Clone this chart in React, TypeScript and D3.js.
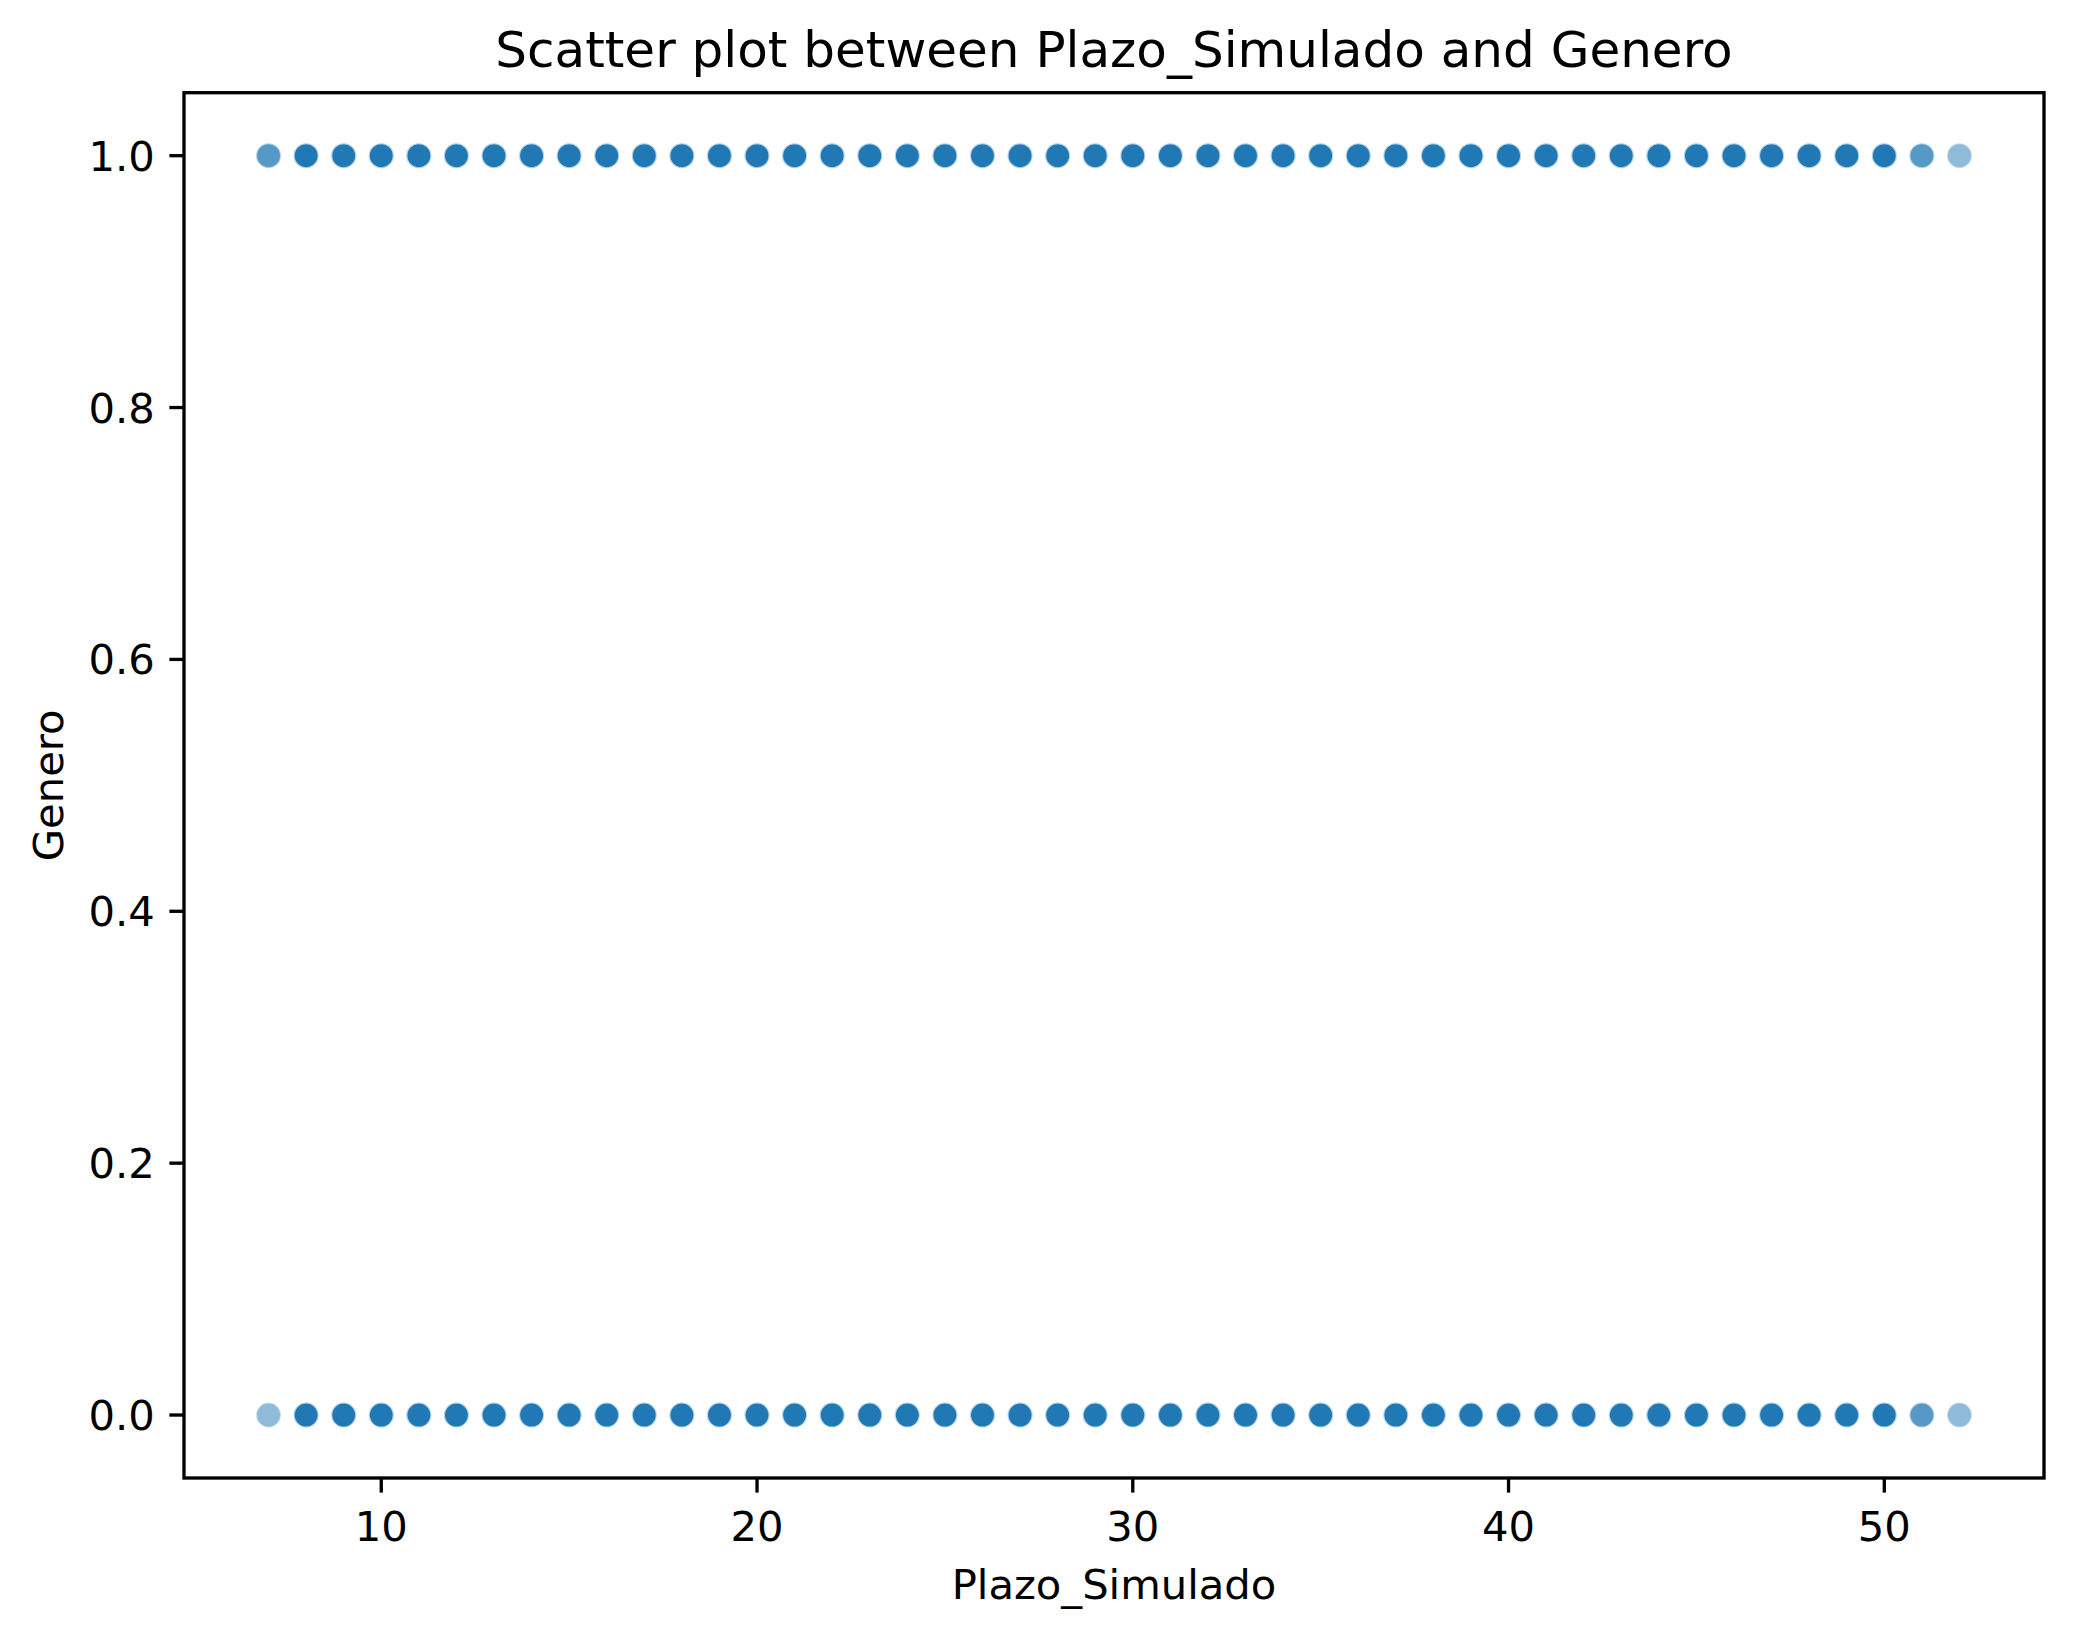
import React from 'react';
import * as d3 from 'd3';

// Plazo_Simulado values seen on the x axis
const plazo = [
  7, 8, 9, 10, 11, 12, 13, 14, 15, 16, 17, 18, 19, 20, 21, 22, 23, 24, 25, 26, 27, 28, 29,
  30, 31, 32, 33, 34, 35, 36, 37, 38, 39, 40, 41, 42, 43, 44, 45, 46, 47, 48, 49, 50, 51, 52,
];

// estimated number of overlapping records at Genero = 1 and Genero = 0
const countGenero1 = [
  2, 8, 8, 8, 8, 8, 8, 8, 8, 8, 8, 8, 8, 8, 8, 8, 8, 8, 8, 8, 8, 8, 8,
  8, 8, 8, 8, 8, 8, 8, 8, 8, 8, 8, 8, 8, 8, 8, 8, 8, 8, 8, 8, 8, 2, 1,
];
const countGenero0 = [
  1, 8, 8, 8, 8, 8, 8, 8, 8, 8, 8, 8, 8, 8, 8, 8, 8, 8, 8, 8, 8, 8, 8,
  8, 8, 8, 8, 8, 8, 8, 8, 8, 8, 8, 8, 8, 8, 8, 8, 8, 8, 8, 8, 8, 2, 1,
];

const xTicks = [10, 20, 30, 40, 50];
const yTicks = [0, 0.2, 0.4, 0.6, 0.8, 1.0];

const WIDTH = 2074;
const HEIGHT = 1639;
const FONT = 'DejaVu Sans, sans-serif';

export default function App() {
  const margin = { left: 184, right: 30, top: 92.7, bottom: 161 };
  const x = d3
    .scaleLinear()
    .domain([4.75, 54.25])
    .range([margin.left, WIDTH - margin.right]);
  const y = d3
    .scaleLinear()
    .domain([-0.05, 1.05])
    .range([HEIGHT - margin.bottom, margin.top]);

  const [x0, x1] = x.range();
  const [yb, yt] = y.range();

  // expand counts into individual points (each drawn with alpha 0.5)
  const points: { px: number; g: number }[] = [];
  plazo.forEach((p, i) => {
    for (let k = 0; k < countGenero1[i]; k++) points.push({ px: p, g: 1 });
    for (let k = 0; k < countGenero0[i]; k++) points.push({ px: p, g: 0 });
  });

  const tickLen = 14.6;
  const pad = 14.6;

  return (
    <svg
      width={WIDTH}
      height={HEIGHT}
      style={{ position: 'absolute', left: 0, top: 0, background: '#fff' }}
      fontFamily={FONT}
    >
      <rect x={0} y={0} width={WIDTH} height={HEIGHT} fill="#fff" />

      {/* points */}
      <g>
        {points.map((d, i) => (
          <circle
            key={i}
            cx={x(d.px)}
            cy={y(d.g)}
            r={12.5}
            fill="#1f77b4"
            fillOpacity={0.5}
            stroke="#fff"
            strokeOpacity={0.5}
            strokeWidth={2}
          />
        ))}
      </g>

      {/* frame */}
      <rect
        x={x0}
        y={yt}
        width={x1 - x0}
        height={yb - yt}
        fill="none"
        stroke="#000"
        strokeWidth={3.33}
      />

      {/* x ticks */}
      {xTicks.map((t) => (
        <g key={t} transform={`translate(${x(t)},${yb})`}>
          <line y1={0} y2={tickLen} stroke="#000" strokeWidth={3.33} />
          <text y={1540.7 - yb} textAnchor="middle" fontSize={41.7} fill="#000">
            {t}
          </text>
        </g>
      ))}

      {/* y ticks */}
      {yTicks.map((t) => (
        <g key={t} transform={`translate(${x0},${y(t)})`}>
          <line x1={0} x2={-tickLen} stroke="#000" strokeWidth={3.33} />
          <text
            x={-tickLen - pad}
            dy="0.36em"
            textAnchor="end"
            fontSize={41.7}
            fill="#000"
          >
            {t.toFixed(1)}
          </text>
        </g>
      ))}

      {/* labels */}
      <text
        x={(x0 + x1) / 2}
        y={1599}
        textAnchor="middle"
        fontSize={41.7}
        fill="#000"
      >
        Plazo_Simulado
      </text>
      <text
        transform={`translate(63,${(yt + yb) / 2}) rotate(-90)`}
        textAnchor="middle"
        fontSize={41.7}
        fill="#000"
      >
        Genero
      </text>
      <text
        x={(x0 + x1) / 2}
        y={67}
        textAnchor="middle"
        fontSize={50}
        fill="#000"
      >
        Scatter plot between Plazo_Simulado and Genero
      </text>
    </svg>
  );
}
